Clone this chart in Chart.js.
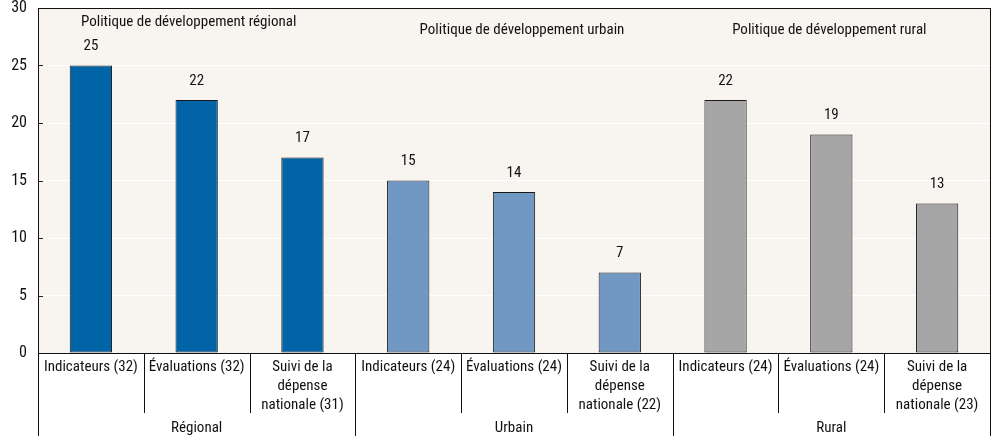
<!DOCTYPE html>
<html>
<head>
<meta charset="utf-8">
<script src="https://cdn.jsdelivr.net/npm/chart.js@4"></script>
<style>
html,body{margin:0;padding:0;background:#fff;}
#wrap{width:1000px;height:436px;position:relative;}
</style>
</head>
<body>
<div id="wrap"><canvas id="c" width="1000" height="436"></canvas></div>
<script>
const categories = [
  ["Indicateurs (32)"], ["Évaluations (32)"], ["Suivi de la","dépense","nationale (31)"],
  ["Indicateurs (24)"], ["Évaluations (24)"], ["Suivi de la","dépense","nationale (22)"],
  ["Indicateurs (24)"], ["Évaluations (24)"], ["Suivi de la","dépense","nationale (23)"]
];
const values = [25, 22, 17, 15, 14, 7, 22, 19, 13];
const groups = ["Régional", "Urbain", "Rural"];
const groupSize = 3;
const groupTitles = ["Politique de développement régional", "Politique de développement urbain", "Politique de développement rural"];
const groupColors = ["#0064a7", "#7197c3", "#a6a6a6"];
const yTicks = [0, 5, 10, 15, 20, 25, 30];

const FONT = "'Liberation Sans Narrow', 'Arial Narrow', 'Roboto Condensed', 'Liberation Sans', sans-serif";
const barColors = values.map((v, i) => groupColors[Math.floor(i / groupSize)]);

const decor = {
  id: 'decor',
  beforeDraw(chart) {
    const {ctx, chartArea: a} = chart;
    ctx.save();
    ctx.fillStyle = '#f8f5f1';
    ctx.fillRect(a.left, a.top, a.right - a.left, a.bottom - a.top);
    ctx.restore();
  },
  afterDatasetsDraw(chart) {
    const {ctx, chartArea: a, scales: {x, y}} = chart;
    ctx.save();
    ctx.fillStyle = '#111';
    ctx.font = '15px ' + FONT;
    ctx.textAlign = 'center';
    ctx.textBaseline = 'middle';
    const meta = chart.getDatasetMeta(0);
    meta.data.forEach((bar, i) => {
      ctx.fillText(String(values[i]), bar.x, bar.y - 19);
    });
    const catW = (a.right - a.left) / categories.length;
    const titleOffsets = [{dx: -8, dy: 14}, {dx: 8, dy: 22}, {dx: -2, dy: 22}];
    groupTitles.forEach((t, g) => {
      const cx = a.left + catW * (g * groupSize + groupSize / 2);
      ctx.fillText(t, cx + titleOffsets[g].dx, a.top + titleOffsets[g].dy);
    });
    ctx.strokeStyle = '#222';
    ctx.lineWidth = 1;
    yTicks.forEach(v => {
      const py = Math.round(y.getPixelForValue(v)) + 0.5;
      ctx.beginPath();
      ctx.moveTo(a.left, py);
      ctx.lineTo(a.left + 5, py);
      ctx.stroke();
    });
    ctx.strokeStyle = '#111';
    ctx.strokeRect(Math.round(a.left) + 0.5, Math.round(a.top) + 0.5, Math.round(a.right - a.left), Math.round(a.bottom - a.top));
    const H = chart.height;
    for (let i = 0; i <= categories.length; i++) {
      const px = Math.round(a.left + catW * i) + 0.5;
      const isGroup = i % groupSize === 0;
      ctx.beginPath();
      ctx.moveTo(px, a.bottom);
      ctx.lineTo(px, isGroup ? H : a.bottom + 60);
      ctx.stroke();
    }
    ctx.fillStyle = '#111';
    groups.forEach((gname, g) => {
      const cx = a.left + catW * (g * groupSize + groupSize / 2);
      ctx.fillText(gname, cx, a.bottom + 75);
    });
    ctx.restore();
  }
};

new Chart(document.getElementById('c'), {
  type: 'bar',
  data: {
    labels: categories,
    datasets: [{
      data: values,
      backgroundColor: barColors,
      borderColor: '#1a1a1a',
      borderWidth: 1,
      borderSkipped: false,
      barPercentage: 0.4,
      categoryPercentage: 1.0
    }]
  },
  options: {
    responsive: false,
    animation: false,
    devicePixelRatio: 1,
    layout: {padding: {left: 0, right: 10, top: 8, bottom: 0}},
    plugins: {legend: {display: false}, tooltip: {enabled: false}, title: {display: false}},
    scales: {
      x: {
        grid: {display: false, drawTicks: false},
        border: {display: false},
        ticks: {
          color: '#111',
          font: {family: FONT, size: 15, lineHeight: 1.27},
          padding: 5,
          maxRotation: 0,
          autoSkip: false
        },
        afterFit(s) { s.height = 83; s.paddingLeft = 0; s.paddingRight = 0; }
      },
      y: {
        min: 0, max: 30,
        afterBuildTicks(s) { s.ticks = yTicks.map(v => ({value: v})); },
        grid: {color: '#ffffff', lineWidth: 1, drawTicks: false},
        border: {display: false},
        ticks: {
          color: '#111',
          font: {family: FONT, size: 16},
          padding: 11
        },
        afterFit(s) { s.width = 38; s.paddingTop = 0; s.paddingBottom = 0; }
      }
    }
  },
  plugins: [decor]
});
</script>
</body>
</html>
